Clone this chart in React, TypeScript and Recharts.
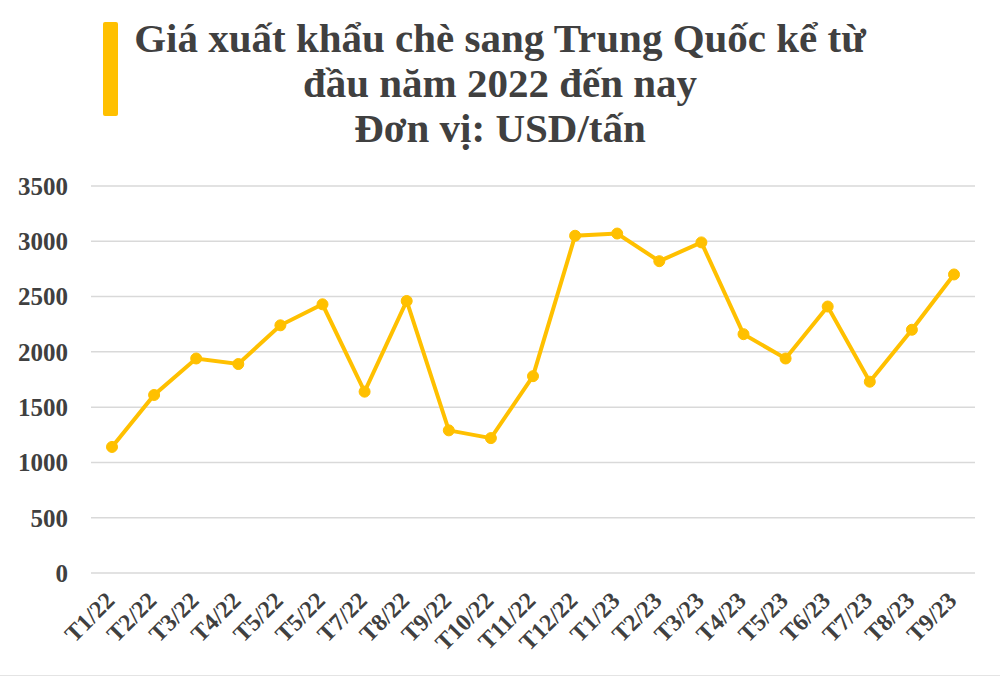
import { LineChart, Line, XAxis, YAxis, CartesianGrid } from "recharts";

const months = [
  "T1/22", "T2/22", "T3/22", "T4/22", "T5/22", "T5/22", "T7/22", "T8/22", "T9/22", "T10/22", "T11/22",
  "T12/22", "T1/23", "T2/23", "T3/23", "T4/23", "T5/23", "T6/23", "T7/23", "T8/23", "T9/23",
];
const prices = [
  1140, 1610, 1940, 1890, 2240, 2430, 1640, 2460, 1290, 1220, 1780,
  3050, 3070, 2820, 2990, 2160, 1940, 2410, 1730, 2200, 2700,
];
const yTicks = [0, 500, 1000, 1500, 2000, 2500, 3000, 3500];
const titleLines = ["Giá xuất khẩu chè sang Trung Quốc kể từ", "đầu năm 2022 đến nay", "Đơn vị: USD/tấn"];

const data = months.map((m, i) => ({ idx: i, month: m, price: prices[i] }));

const GOLD = "#FFC000";
const TEXT = "#404040";
const SERIF = "'Liberation Serif', 'Times New Roman', serif";

function MonthTick(props: any) {
  const { x, y, payload } = props;
  return (
    <g transform={`translate(${x + 4},${y + 21})`}>
      <text
        x={0}
        y={0}
        textAnchor="end"
        transform="rotate(-45)"
        fill={TEXT}
        fontFamily={SERIF}
        fontWeight="bold"
        fontSize={24}
      >
        {months[payload.value]}
      </text>
    </g>
  );
}

export default function App() {
  return (
    <div style={{ position: "absolute", left: 0, top: 0, width: 1000, height: 679, background: "#fff", overflow: "hidden" }}>
      <div style={{ position: "absolute", left: 103, top: 22, width: 15, height: 94, background: GOLD, borderRadius: 2 }} />
      <div
        style={{
          position: "absolute",
          left: 0,
          top: 16,
          width: 1000,
          textAlign: "center",
          fontFamily: SERIF,
          fontWeight: "bold",
          fontSize: 41,
          lineHeight: "45px",
          color: TEXT,
        }}
      >
        {titleLines.map((t, i) => (
          <div key={i}>{t}</div>
        ))}
      </div>
      <div style={{ position: "absolute", left: 0, top: 675, width: 1000, borderTop: "1px solid #e4e4e4" }} />
      <div style={{ position: "absolute", left: 0, top: 0 }}>
        <LineChart width={1000} height={679} data={data} margin={{ top: 186, right: 25, bottom: 0, left: 0 }}>
          <CartesianGrid vertical={false} stroke="#d9d9d9" strokeWidth={1.5} />
          <XAxis
            dataKey="idx"
            type="category"
            axisLine={false}
            tickLine={false}
            padding={{ left: 21, right: 21 }}
            tick={<MonthTick />}
            interval={0}
            height={106}
          />
          <YAxis
            domain={[0, 3500]}
            ticks={yTicks}
            width={91}
            axisLine={false}
            tickLine={false}
            tickSize={0}
            tickMargin={23}
            tick={{ fill: TEXT, fontFamily: SERIF, fontWeight: "bold", fontSize: 25 }}
          />
          <Line
            type="linear"
            dataKey="price"
            stroke={GOLD}
            strokeWidth={4}
            dot={{ r: 5.5, fill: GOLD, stroke: GOLD, strokeWidth: 1 }}
            isAnimationActive={false}
          />
        </LineChart>
      </div>
    </div>
  );
}
